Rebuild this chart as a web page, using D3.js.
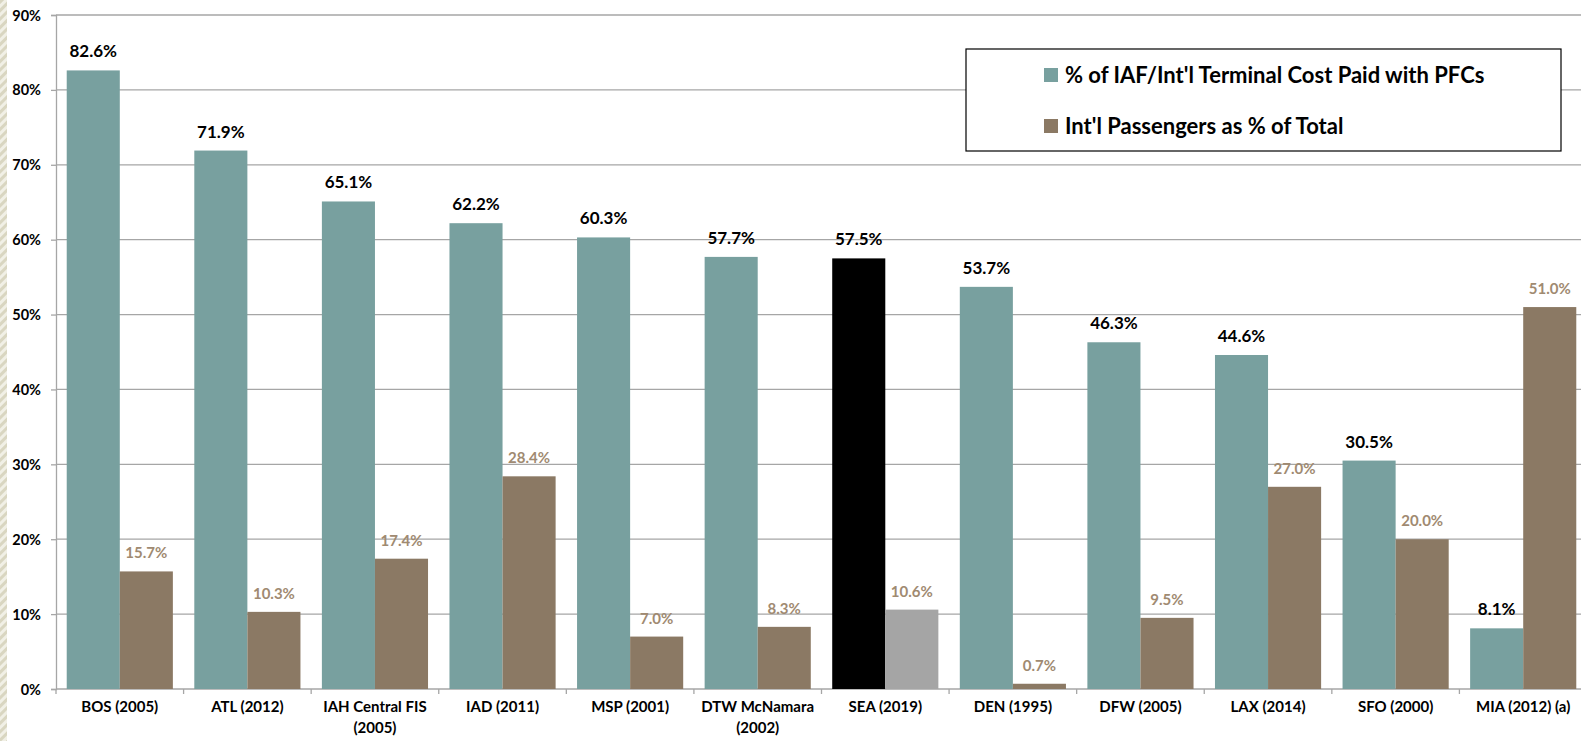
<!DOCTYPE html>
<html>
<head>
<meta charset="utf-8">
<script src="https://cdn.jsdelivr.net/npm/d3@7"></script>
<style>
  body { margin: 0; background: #fff; }
  text { font-family: Lato, "Open Sans", sans-serif; font-weight: bold; }
</style>
</head>
<body>
<div id="chart"></div>
<script>
// chart data
var airports = ["BOS (2005)", "ATL (2012)", "IAH Central FIS|(2005)", "IAD (2011)", "MSP (2001)",
  "DTW McNamara|(2002)", "SEA (2019)", "DEN (1995)", "DFW (2005)", "LAX (2014)", "SFO (2000)", "MIA (2012) (a)"];
var pfcShare = [82.6, 71.9, 65.1, 62.2, 60.3, 57.7, 57.5, 53.7, 46.3, 44.6, 30.5, 8.1];
var intlShare = [15.7, 10.3, 17.4, 28.4, 7.0, 8.3, 10.6, 0.7, 9.5, 27.0, 20.0, 51.0];
var seriesNames = ["% of IAF/Int'l Terminal Cost Paid with PFCs", "Int'l Passengers as % of Total"];
var yTicks = [0, 10, 20, 30, 40, 50, 60, 70, 80, 90];

var width = 1581, height = 741;
var margin = {top: 15, right: -6, bottom: 52, left: 56};

var tealColor = "#78a09f", brownColor = "#8b7964", labelBrown = "#a08a71";

var svg = d3.select("#chart").append("svg")
    .attr("width", width)
    .attr("height", height);

// striped strip on the left edge
var pat = svg.append("defs").append("pattern")
    .attr("id", "stripes")
    .attr("patternUnits", "userSpaceOnUse")
    .attr("width", 6).attr("height", 6)
    .attr("patternTransform", "rotate(45)");
pat.append("rect").attr("width", 6).attr("height", 6).attr("fill", "#f1f0e6");
pat.append("rect").attr("width", 3).attr("height", 6).attr("fill", "#d9d6c1");
svg.append("rect").attr("x", 0).attr("y", 0).attr("width", 7).attr("height", height)
    .attr("fill", "url(#stripes)");

var x0 = d3.scaleBand()
    .domain(airports)
    .range([margin.left, width - margin.right])
    .paddingInner(0.168)
    .paddingOuter(0.084);

var step = x0.step();
var x1 = d3.scaleBand()
    .domain([0, 1])
    .range([0, x0.bandwidth()]);

var y = d3.scaleLinear()
    .domain([0, 90])
    .range([height - margin.bottom, margin.top]);

// gridlines
svg.append("g")
  .selectAll("line")
  .data(yTicks.slice(1))
  .enter().append("line")
    .attr("x1", margin.left)
    .attr("x2", width)
    .attr("y1", function(d) { return y(d); })
    .attr("y2", function(d) { return y(d); })
    .attr("stroke", "#a6a6a6")
    .attr("stroke-width", 1.3);

// y axis
var yAxis = d3.axisLeft(y).tickValues(yTicks).tickFormat(function(d) { return d + "%"; })
    .tickSize(5).tickPadding(10);
var gy = svg.append("g")
    .attr("transform", "translate(" + margin.left + ",0)")
    .call(yAxis);
gy.select(".domain").attr("stroke", "#a6a6a6").attr("stroke-width", 1.3);
gy.selectAll(".tick line").attr("stroke", "#a6a6a6").attr("stroke-width", 1.3);
gy.selectAll(".tick text").attr("font-size", 14.5).attr("fill", "#000").attr("dy", "0.35em");

// x axis line and boundary ticks
var bottom = y(0);
svg.append("line")
    .attr("x1", margin.left).attr("x2", width)
    .attr("y1", bottom).attr("y2", bottom)
    .attr("stroke", "#a6a6a6").attr("stroke-width", 1.3);
svg.append("g")
  .selectAll("line")
  .data(d3.range(airports.length + 1))
  .enter().append("line")
    .attr("x1", function(i) { return x0.range()[0] + i * step; })
    .attr("x2", function(i) { return x0.range()[0] + i * step; })
    .attr("y1", bottom).attr("y2", bottom + 5)
    .attr("stroke", "#a6a6a6").attr("stroke-width", 1.3);

// category labels
var cat = svg.append("g")
  .selectAll("text")
  .data(airports)
  .enter().append("text")
    .attr("x", function(d) { return x0(d) + x0.bandwidth() / 2; })
    .attr("y", bottom + 23)
    .attr("text-anchor", "middle")
    .attr("font-size", 15)
    .attr("fill", "#000");
cat.each(function(d) {
  var lines = d.split("|");
  var t = d3.select(this);
  lines.forEach(function(l, i) {
    t.append("tspan")
      .attr("x", x0(d) + x0.bandwidth() / 2)
      .attr("dy", i === 0 ? 0 : 21)
      .text(l);
  });
});

// bars
var groups = svg.append("g")
  .selectAll("g")
  .data(airports)
  .enter().append("g")
    .attr("transform", function(d) { return "translate(" + x0(d) + ",0)"; });

groups.append("rect")
    .attr("x", x1(0))
    .attr("width", x1.bandwidth())
    .attr("y", function(d, i) { return y(pfcShare[i]); })
    .attr("height", function(d, i) { return bottom - y(pfcShare[i]); })
    .attr("fill", function(d) { return d === "SEA (2019)" ? "#000" : tealColor; });

groups.append("rect")
    .attr("x", x1(1))
    .attr("width", x1.bandwidth())
    .attr("y", function(d, i) { return y(intlShare[i]); })
    .attr("height", function(d, i) { return bottom - y(intlShare[i]); })
    .attr("fill", function(d) { return d === "SEA (2019)" ? "#a5a5a5" : brownColor; });

// value labels
groups.append("text")
    .attr("x", x1(0) + x1.bandwidth() / 2)
    .attr("y", function(d, i) { return y(pfcShare[i]) - 13; })
    .attr("text-anchor", "middle")
    .attr("font-size", 17)
    .attr("fill", "#000")
    .text(function(d, i) { return pfcShare[i].toFixed(1) + "%"; });

groups.append("text")
    .attr("x", x1(1) + x1.bandwidth() / 2)
    .attr("y", function(d, i) { return y(intlShare[i]) - 13; })
    .attr("text-anchor", "middle")
    .attr("font-size", 15)
    .attr("fill", labelBrown)
    .text(function(d, i) { return intlShare[i].toFixed(1) + "%"; });

// legend
var legend = svg.append("g");
legend.append("rect")
    .attr("x", 966).attr("y", 49)
    .attr("width", 595).attr("height", 102)
    .attr("fill", "#fff")
    .attr("stroke", "#000").attr("stroke-width", 1.2);
var legendItem = legend.selectAll("g")
  .data(seriesNames)
  .enter().append("g")
    .attr("transform", function(d, i) { return "translate(1044," + (75 + i * 51) + ")"; });
legendItem.append("rect")
    .attr("x", 0).attr("y", -7)
    .attr("width", 14).attr("height", 14)
    .attr("fill", function(d, i) { return i === 0 ? tealColor : brownColor; });
legendItem.append("text")
    .attr("x", 21).attr("y", 8)
    .attr("font-size", 22)
    .attr("fill", "#000")
    .text(function(d) { return d; });
</script>
</body>
</html>
